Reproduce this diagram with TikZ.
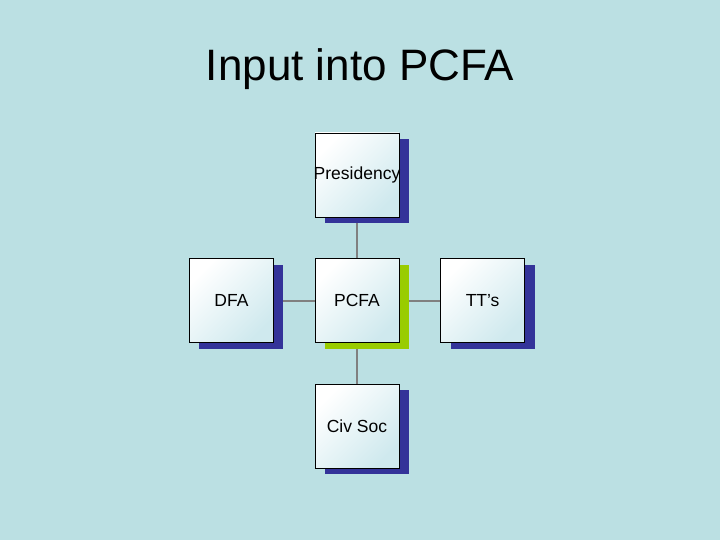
\documentclass[tikz,border=0pt]{standalone}
\usepackage{fontspec}
\setmainfont{Liberation Sans}
\usepackage{tikz}
\usetikzlibrary{positioning, shadows, backgrounds}

\definecolor{slidebg}{HTML}{BBE0E3}
\definecolor{shadowblue}{HTML}{333399}
\definecolor{shadowgreen}{HTML}{99CC00}
\definecolor{boxend}{HTML}{CFE9EE}

\begin{document}
\begin{tikzpicture}[x=1pt, y=-1pt,
  orgbox/.style={draw=black, line width=0.6pt, minimum size=84pt, inner sep=0pt,
    top color=white, bottom color=boxend, shading angle=45,
    font=\fontsize{17.5}{20}\selectfont,
    drop shadow={shadow xshift=10pt, shadow yshift=-6pt, fill=shadowblue, opacity=1}},
  keybox/.style={orgbox,
    drop shadow={shadow xshift=10pt, shadow yshift=-6pt, fill=shadowgreen, opacity=1}},
  link/.style={draw=gray, line width=2pt}]
  \useasboundingbox (0,0) rectangle (720,540);

  \node[anchor=base, font=\fontsize{44}{50}\selectfont] (title) at (360,81) {Input into PCFA};

  % PCFA in the middle, the others round it
  \node[keybox] (pcfa) at (357,300.5) {PCFA};
  \node[orgbox, above=41pt of pcfa] (pres) {\makebox[0pt]{Presidency}};
  \node[orgbox, left=41pt of pcfa] (dfa) {DFA};
  \node[orgbox, right=41pt of pcfa] (tts) {TT’s};
  \node[orgbox, below=41pt of pcfa] (civ) {Civ Soc};

  \begin{scope}[on background layer]
    % slide background
    \fill[slidebg] (0,0) rectangle (720,540);
    \draw[link] (pres) -- (pcfa);
    \draw[link] (civ) -- (pcfa);
    \draw[link] (dfa) -- (pcfa);
    \draw[link] (tts) -- (pcfa);
  \end{scope}
\end{tikzpicture}
\end{document}
